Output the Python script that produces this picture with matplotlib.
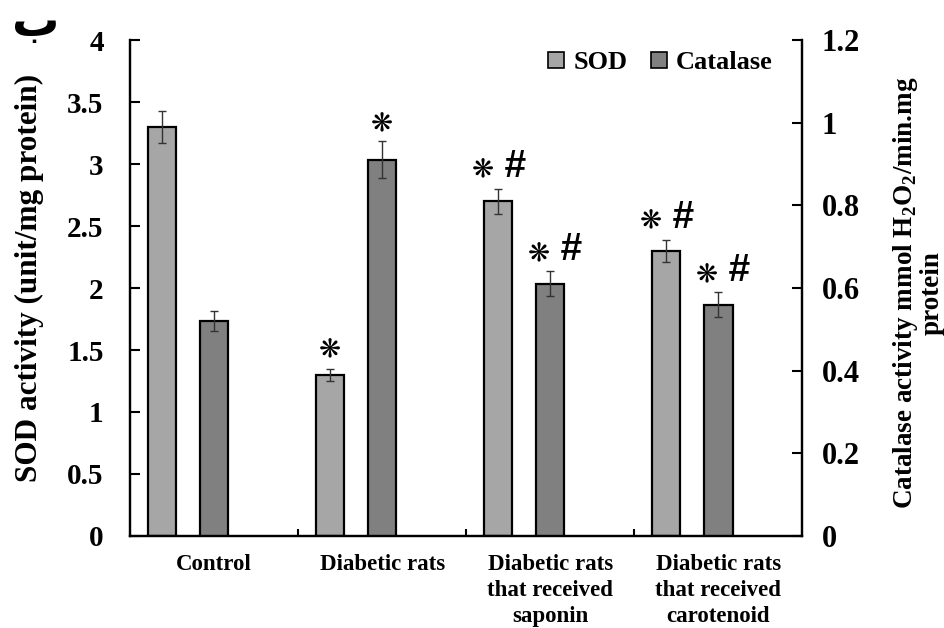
import matplotlib

matplotlib.use("Agg")
import matplotlib.pyplot as plt
import numpy as np

groups = ["Control", "Diabetic rats", "Diabetic rats\nthat received\nsaponin",
          "Diabetic rats\nthat received\ncarotenoid"]
sod = [3.30, 1.30, 2.70, 2.30]
sod_err = [0.13, 0.05, 0.10, 0.09]
catalase = [0.52, 0.91, 0.61, 0.56]
catalase_err = [0.025, 0.045, 0.03, 0.03]
# significance marks: "s" = vs control, "h" = vs diabetic
sod_marks = ["", "s", "sh", "sh"]
cat_marks = ["", "s", "sh", "sh"]

plt.rcParams["font.family"] = ["Liberation Serif", "DejaVu Sans"]
plt.rcParams["font.weight"] = "bold"
plt.rcParams["mathtext.fontset"] = "custom"
plt.rcParams["mathtext.rm"] = "Liberation Serif:bold"
plt.rcParams["mathtext.bf"] = "Liberation Serif:bold"

SOD_C = "#a6a6a6"
CAT_C = "#808080"

fig = plt.figure(figsize=(9.45, 6.28), dpi=100)
ax = fig.add_axes([0.1376, 0.1465, 0.7114, 0.7898])
ax2 = ax.twinx()

x = np.arange(len(groups))
w = 0.17
xs = x - 0.31
xc = x

err_kw = dict(ecolor="#333333", elinewidth=1.0, capsize=3, capthick=1.0)
ax.bar(xs, sod, w, yerr=sod_err, color=SOD_C, edgecolor="black", linewidth=1.6,
       error_kw=err_kw, zorder=2)
ax2.bar(xc, catalase, w, yerr=catalase_err, color=CAT_C, edgecolor="black", linewidth=1.6,
        error_kw=err_kw, zorder=2)

ax.set_xlim(-0.5, len(groups) - 0.5)
ax.set_ylim(0, 4)
ax2.set_ylim(0, 1.2)
ax.set_yticks(np.arange(0, 4.01, 0.5))
ax.set_yticklabels(["0", "0.5", "1", "1.5", "2", "2.5", "3", "3.5", "4"])
ax2.set_yticks(np.arange(0, 1.21, 0.2))
ax2.set_yticklabels(["0", "0.2", "0.4", "0.6", "0.8", "1", "1.2"])

ax.set_xticks(x)
ax.set_xticklabels(groups, fontsize=16.5, fontweight="bold", linespacing=1.3)
ax.set_xticks(np.arange(0.5, len(groups) - 0.5, 1), minor=True)
ax.tick_params(axis="x", which="major", length=0, pad=13)
ax.tick_params(axis="x", which="minor", direction="in", length=5, width=1.5)
ax.tick_params(axis="y", direction="in", length=7, width=1.5, labelsize=21, pad=19)
ax2.tick_params(axis="y", direction="in", length=7, width=1.5, labelsize=22, pad=14)

for a in (ax, ax2):
    a.spines["top"].set_visible(False)
    for s in ("left", "right", "bottom"):
        a.spines[s].set_linewidth(1.6)

ax.set_ylabel("SOD activity (unit/mg protein)", fontsize=22.5, fontweight="bold")
ax.yaxis.set_label_coords(-0.128, 0.52)
ax2.set_ylabel("Catalase activity mmol H$_{2}$O$_{2}$/min.mg\nprotein", fontsize=19.5,
               fontweight="bold", linespacing=1.0, rotation=90, va="center")
ax2.yaxis.set_label_coords(1.172, 0.49)
# panel letter (Arabic "ba")
fig.text(0.013, 0.943, "\u0628", fontsize=34, fontweight="bold",
         family=["DejaVu Sans"], ha="left", va="baseline")

PX = 0.72  # points per pixel at 100 dpi


def mark(axis, xpos, top, code, star_dx, hash_dx, dy):
    if not code:
        return
    if "h" not in code:
        star_dx = 0
    axis.annotate("\u274b", (xpos, top), xytext=(star_dx * PX, dy * PX),
                  textcoords="offset points", ha="center", va="center", fontsize=19,
                  fontweight="normal", family=["DejaVu Sans"], zorder=3)
    if "h" in code:
        axis.annotate("#", (xpos, top), xytext=(hash_dx * PX, (dy + 3) * PX),
                      textcoords="offset points", ha="center", va="center", fontsize=28,
                      style="italic", fontweight="bold", family=["Liberation Sans"], zorder=3)


for i in range(len(groups)):
    mark(ax, xs[i], sod[i] + sod_err[i], sod_marks[i], -15, 16, 19)
    mark(ax2, xc[i], catalase[i] + catalase_err[i], cat_marks[i], -11, 20, 18)

handles = [plt.Rectangle((0, 0), 1, 1, facecolor=SOD_C, edgecolor="black", linewidth=1.2),
           plt.Rectangle((0, 0), 1, 1, facecolor=CAT_C, edgecolor="black", linewidth=1.2)]
fig.legend(handles, ["SOD", "Catalase"], loc="center", bbox_to_anchor=(0.699, 0.9), ncol=2,
           frameon=False, handlelength=0.6, handleheight=0.6,
           handletextpad=0.35, columnspacing=0.9, prop={"weight": "bold", "size": 19})

fig.savefig("out.png", dpi=100)
